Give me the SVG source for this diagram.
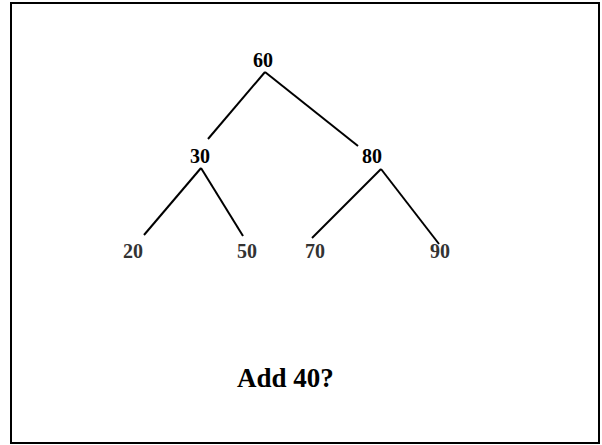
<svg xmlns="http://www.w3.org/2000/svg" width="602" height="445" viewBox="0 0 602 445">
  <style>
    .lbl { font-family: "Liberation Serif", "Times New Roman", serif; font-weight: bold; font-size: 20px; text-anchor: middle; fill: #000; }
    .leaf { fill: #333; }
    .edge { stroke: #000; stroke-width: 2; fill: none; }
    .title { font-family: "Liberation Serif", "Times New Roman", serif; font-weight: bold; font-size: 27px; fill: #000; }
  </style>
  <rect x="0" y="0" width="602" height="445" fill="#fff"/>
  <rect x="11" y="3" width="588" height="440" fill="#fff" stroke="#000" stroke-width="2"/>

  <!-- tree edges -->
  <g id="edges">
    <line class="edge" x1="265" y1="72" x2="208" y2="139"/>
    <line class="edge" x1="265" y1="72" x2="358" y2="146"/>
    <line class="edge" x1="201" y1="168" x2="144" y2="235"/>
    <line class="edge" x1="201" y1="168" x2="243" y2="236"/>
    <line class="edge" x1="381" y1="169" x2="312" y2="238"/>
    <line class="edge" x1="381" y1="169" x2="439" y2="244"/>
  </g>

  <g id="n60"><text class="lbl" x="263" y="67">60</text></g>
  <g id="n30"><text class="lbl" x="200" y="163">30</text></g>
  <g id="n80"><text class="lbl" x="372" y="163">80</text></g>
  <g id="n20"><text class="lbl leaf" x="133" y="258">20</text></g>
  <g id="n50"><text class="lbl leaf" x="247" y="258">50</text></g>
  <g id="n70"><text class="lbl leaf" x="315" y="258">70</text></g>
  <g id="n90"><text class="lbl leaf" x="440" y="258">90</text></g>

  <text class="title" x="237" y="387">Add 40?</text>
</svg>
